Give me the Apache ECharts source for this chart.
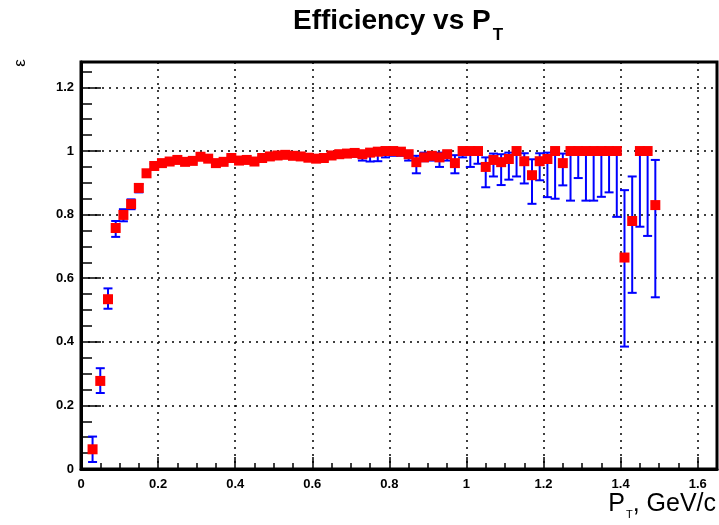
<!DOCTYPE html>
<html>
<head>
<meta charset="utf-8">
<script src="https://cdn.jsdelivr.net/npm/echarts@6/dist/echarts.min.js"></script>
<style>
  html, body {margin: 0; padding: 0; background: #fff;}
  #main {width: 719px; height: 525px;}
</style>
</head>
<body>
<div id="main"></div>
<script>
// bin centres, GeV/c
const pt = [
  0.03, 0.05, 0.07, 0.09, 0.11, 0.13, 0.15, 0.17, 0.19, 0.21,
  0.23, 0.25, 0.27, 0.29, 0.31, 0.33, 0.35, 0.37, 0.39, 0.41,
  0.43, 0.45, 0.47, 0.49, 0.51, 0.53, 0.55, 0.57, 0.59, 0.61,
  0.63, 0.65, 0.67, 0.69, 0.71, 0.73, 0.75, 0.77, 0.79, 0.81,
  0.83, 0.85, 0.87, 0.89, 0.91, 0.93, 0.95, 0.97, 0.99, 1.01,
  1.03, 1.05, 1.07, 1.09, 1.11, 1.13, 1.15, 1.17, 1.19, 1.21,
  1.23, 1.25, 1.27, 1.29, 1.31, 1.33, 1.35, 1.37, 1.39, 1.41,
  1.43, 1.45, 1.47, 1.49
];
const eff = [
  0.062, 0.277, 0.534, 0.758, 0.799, 0.833, 0.884, 0.930, 0.953, 0.962,
  0.967, 0.972, 0.966, 0.969, 0.982, 0.976, 0.962, 0.966, 0.978, 0.970,
  0.972, 0.967, 0.978, 0.983, 0.986, 0.988, 0.985, 0.983, 0.979, 0.976,
  0.978, 0.986, 0.990, 0.992, 0.994, 0.990, 0.995, 0.998, 1.000, 1.000,
  0.998, 0.990, 0.965, 0.980, 0.985, 0.980, 0.990, 0.962, 1.000, 1.000,
  1.000, 0.950, 0.972, 0.965, 0.975, 1.000, 0.968, 0.924, 0.968, 0.975,
  1.000, 0.962, 1.000, 1.000, 1.000, 1.000, 1.000, 1.000, 1.000, 0.665,
  0.780, 1.000, 1.000, 0.830
];
const errLow = [
  0.040, 0.038, 0.030, 0.028, 0.020, 0.016, 0.014, 0.010, 0.008, 0.007,
  0.006, 0.006, 0.006, 0.006, 0.006, 0.006, 0.006, 0.006, 0.006, 0.006,
  0.006, 0.006, 0.006, 0.006, 0.006, 0.006, 0.007, 0.007, 0.007, 0.008,
  0.008, 0.008, 0.009, 0.010, 0.012, 0.020, 0.028, 0.030, 0.020, 0.015,
  0.013, 0.020, 0.035, 0.012, 0.015, 0.030, 0.020, 0.032, 0.020, 0.050,
  0.040, 0.064, 0.052, 0.072, 0.065, 0.080, 0.070, 0.090, 0.060, 0.120,
  0.150, 0.070, 0.156, 0.085, 0.156, 0.156, 0.144, 0.130, 0.207, 0.280,
  0.226, 0.238, 0.267, 0.290
];
const errHigh = [
  0.040, 0.040, 0.034, 0.022, 0.018, 0.015, 0.012, 0.009, 0.007, 0.006,
  0.005, 0.005, 0.005, 0.005, 0.005, 0.005, 0.005, 0.005, 0.005, 0.005,
  0.005, 0.005, 0.005, 0.005, 0.005, 0.005, 0.005, 0.005, 0.005, 0.005,
  0.005, 0.005, 0.005, 0.005, 0.005, 0.008, 0.005, 0.002, 0.000, 0.000,
  0.002, 0.008, 0.020, 0.015, 0.012, 0.015, 0.010, 0.025, 0.000, 0.000,
  0.000, 0.030, 0.020, 0.025, 0.020, 0.000, 0.025, 0.050, 0.025, 0.020,
  0.000, 0.030, 0.000, 0.000, 0.000, 0.000, 0.000, 0.000, 0.000, 0.212,
  0.140, 0.000, 0.000, 0.142
];
const xTicks = [0, 0.2, 0.4, 0.6, 0.8, 1, 1.2, 1.4, 1.6];
const yTicks = [0, 0.2, 0.4, 0.6, 0.8, 1, 1.2];

const font = '"Liberation Sans", Arial, Helvetica, sans-serif';
const X_MAX = 1.65, Y_MAX = 1.28;

const points = pt.map((x, i) => [x, eff[i]]);
const bars = pt.map((x, i) => [x, eff[i] - errLow[i], eff[i] + errHigh[i]]);

const onTick = (v, list) => list.some(t => Math.abs(t - v) < 1e-6);
const fmt = list => v => onTick(v, list) ? String(+v.toFixed(1)) : '';

const chart = echarts.init(document.getElementById('main'), null, {renderer: 'canvas'});
chart.setOption({
  animation: false,
  backgroundColor: '#fff',
  grid: {
    left: 81, right: 2, top: 62, bottom: 56,
    show: true, borderColor: '#000', borderWidth: 3,
    outerBoundsMode: 'none'
  },
  graphic: [
    {
      type: 'text', left: 293, top: 7,
      style: {
        text: '{a|Efficiency vs P}{s|T}',
        rich: {
          a: {fontFamily: font, fontSize: 28, fontWeight: 'bold', fill: '#000', verticalAlign: 'top'},
          s: {fontFamily: font, fontSize: 17, fontWeight: 'bold', fill: '#000', verticalAlign: 'top', padding: [20, 0, 0, 2]}
        }
      }
    },
    {
      type: 'text', right: 3, top: 492,
      style: {
        text: '{a|P}{s|T}{a|, GeV/c}',
        rich: {
          a: {fontFamily: font, fontSize: 25, fill: '#000', verticalAlign: 'top'},
          s: {fontFamily: font, fontSize: 11, fill: '#000', verticalAlign: 'top', padding: [17, 0, 0, 1]}
        }
      }
    },
    {
      type: 'text', x: 20, y: 63, rotation: Math.PI / 2,
      style: {text: 'ε', fontFamily: font, fontSize: 17, fill: '#000', align: 'center', verticalAlign: 'middle'}
    }
  ],
  xAxis: [
    {
      // minor ticks every 0.05
      type: 'value', position: 'bottom', min: 0, max: X_MAX, interval: 0.05,
      axisLine: {show: false},
      axisTick: {inside: true, length: 6, lineStyle: {color: '#000', width: 1.5}},
      axisLabel: {show: false},
      splitLine: {show: false}
    },
    {
      type: 'value', position: 'bottom', min: 0, max: X_MAX, interval: 0.2,
      axisLine: {show: true, onZero: false, lineStyle: {color: '#000', width: 3}},
      axisTick: {inside: true, length: 12, lineStyle: {color: '#000', width: 1.5}},
      axisLabel: {
        formatter: fmt(xTicks), margin: 9, color: '#000',
        fontFamily: font, fontSize: 13, fontWeight: 'bold', showMaxLabel: false
      },
      splitLine: {show: true, lineStyle: {color: '#000', width: 1.5, type: [2, 5]}}
    }
  ],
  yAxis: [
    {
      type: 'value', position: 'left', min: 0, max: Y_MAX, interval: 0.05,
      axisLine: {show: false},
      axisTick: {inside: true, length: 11, lineStyle: {color: '#000', width: 1.5}},
      axisLabel: {show: false},
      splitLine: {show: false}
    },
    {
      type: 'value', position: 'left', min: 0, max: Y_MAX, interval: 0.2,
      axisLine: {show: true, onZero: false, lineStyle: {color: '#000', width: 3}},
      axisTick: {inside: true, length: 20, lineStyle: {color: '#000', width: 1.5}},
      axisLabel: {
        formatter: fmt(yTicks), margin: 7, color: '#000',
        fontFamily: font, fontSize: 13, fontWeight: 'bold', showMaxLabel: false
      },
      splitLine: {show: true, lineStyle: {color: '#000', width: 1.5, type: [2, 5]}}
    }
  ],
  series: [
    {
      type: 'custom',
      xAxisIndex: 1, yAxisIndex: 1,
      data: bars,
      z: 3,
      renderItem(params, api) {
        const x = api.value(0);
        const top = api.coord([x, api.value(2)]);
        const bot = api.coord([x, api.value(1)]);
        const w = 4.5;
        const st = {stroke: '#0000ff', lineWidth: 2};
        return {
          type: 'group',
          children: [
            {type: 'line', shape: {x1: top[0], y1: top[1], x2: bot[0], y2: bot[1]}, style: st},
            {type: 'line', shape: {x1: top[0] - w, y1: top[1], x2: top[0] + w, y2: top[1]}, style: st},
            {type: 'line', shape: {x1: bot[0] - w, y1: bot[1], x2: bot[0] + w, y2: bot[1]}, style: st}
          ]
        };
      }
    },
    {
      type: 'scatter',
      xAxisIndex: 1, yAxisIndex: 1,
      data: points,
      symbol: 'rect',
      symbolSize: 10,
      z: 4,
      itemStyle: {color: '#ff0000', opacity: 1}
    }
  ]
});
</script>
</body>
</html>
